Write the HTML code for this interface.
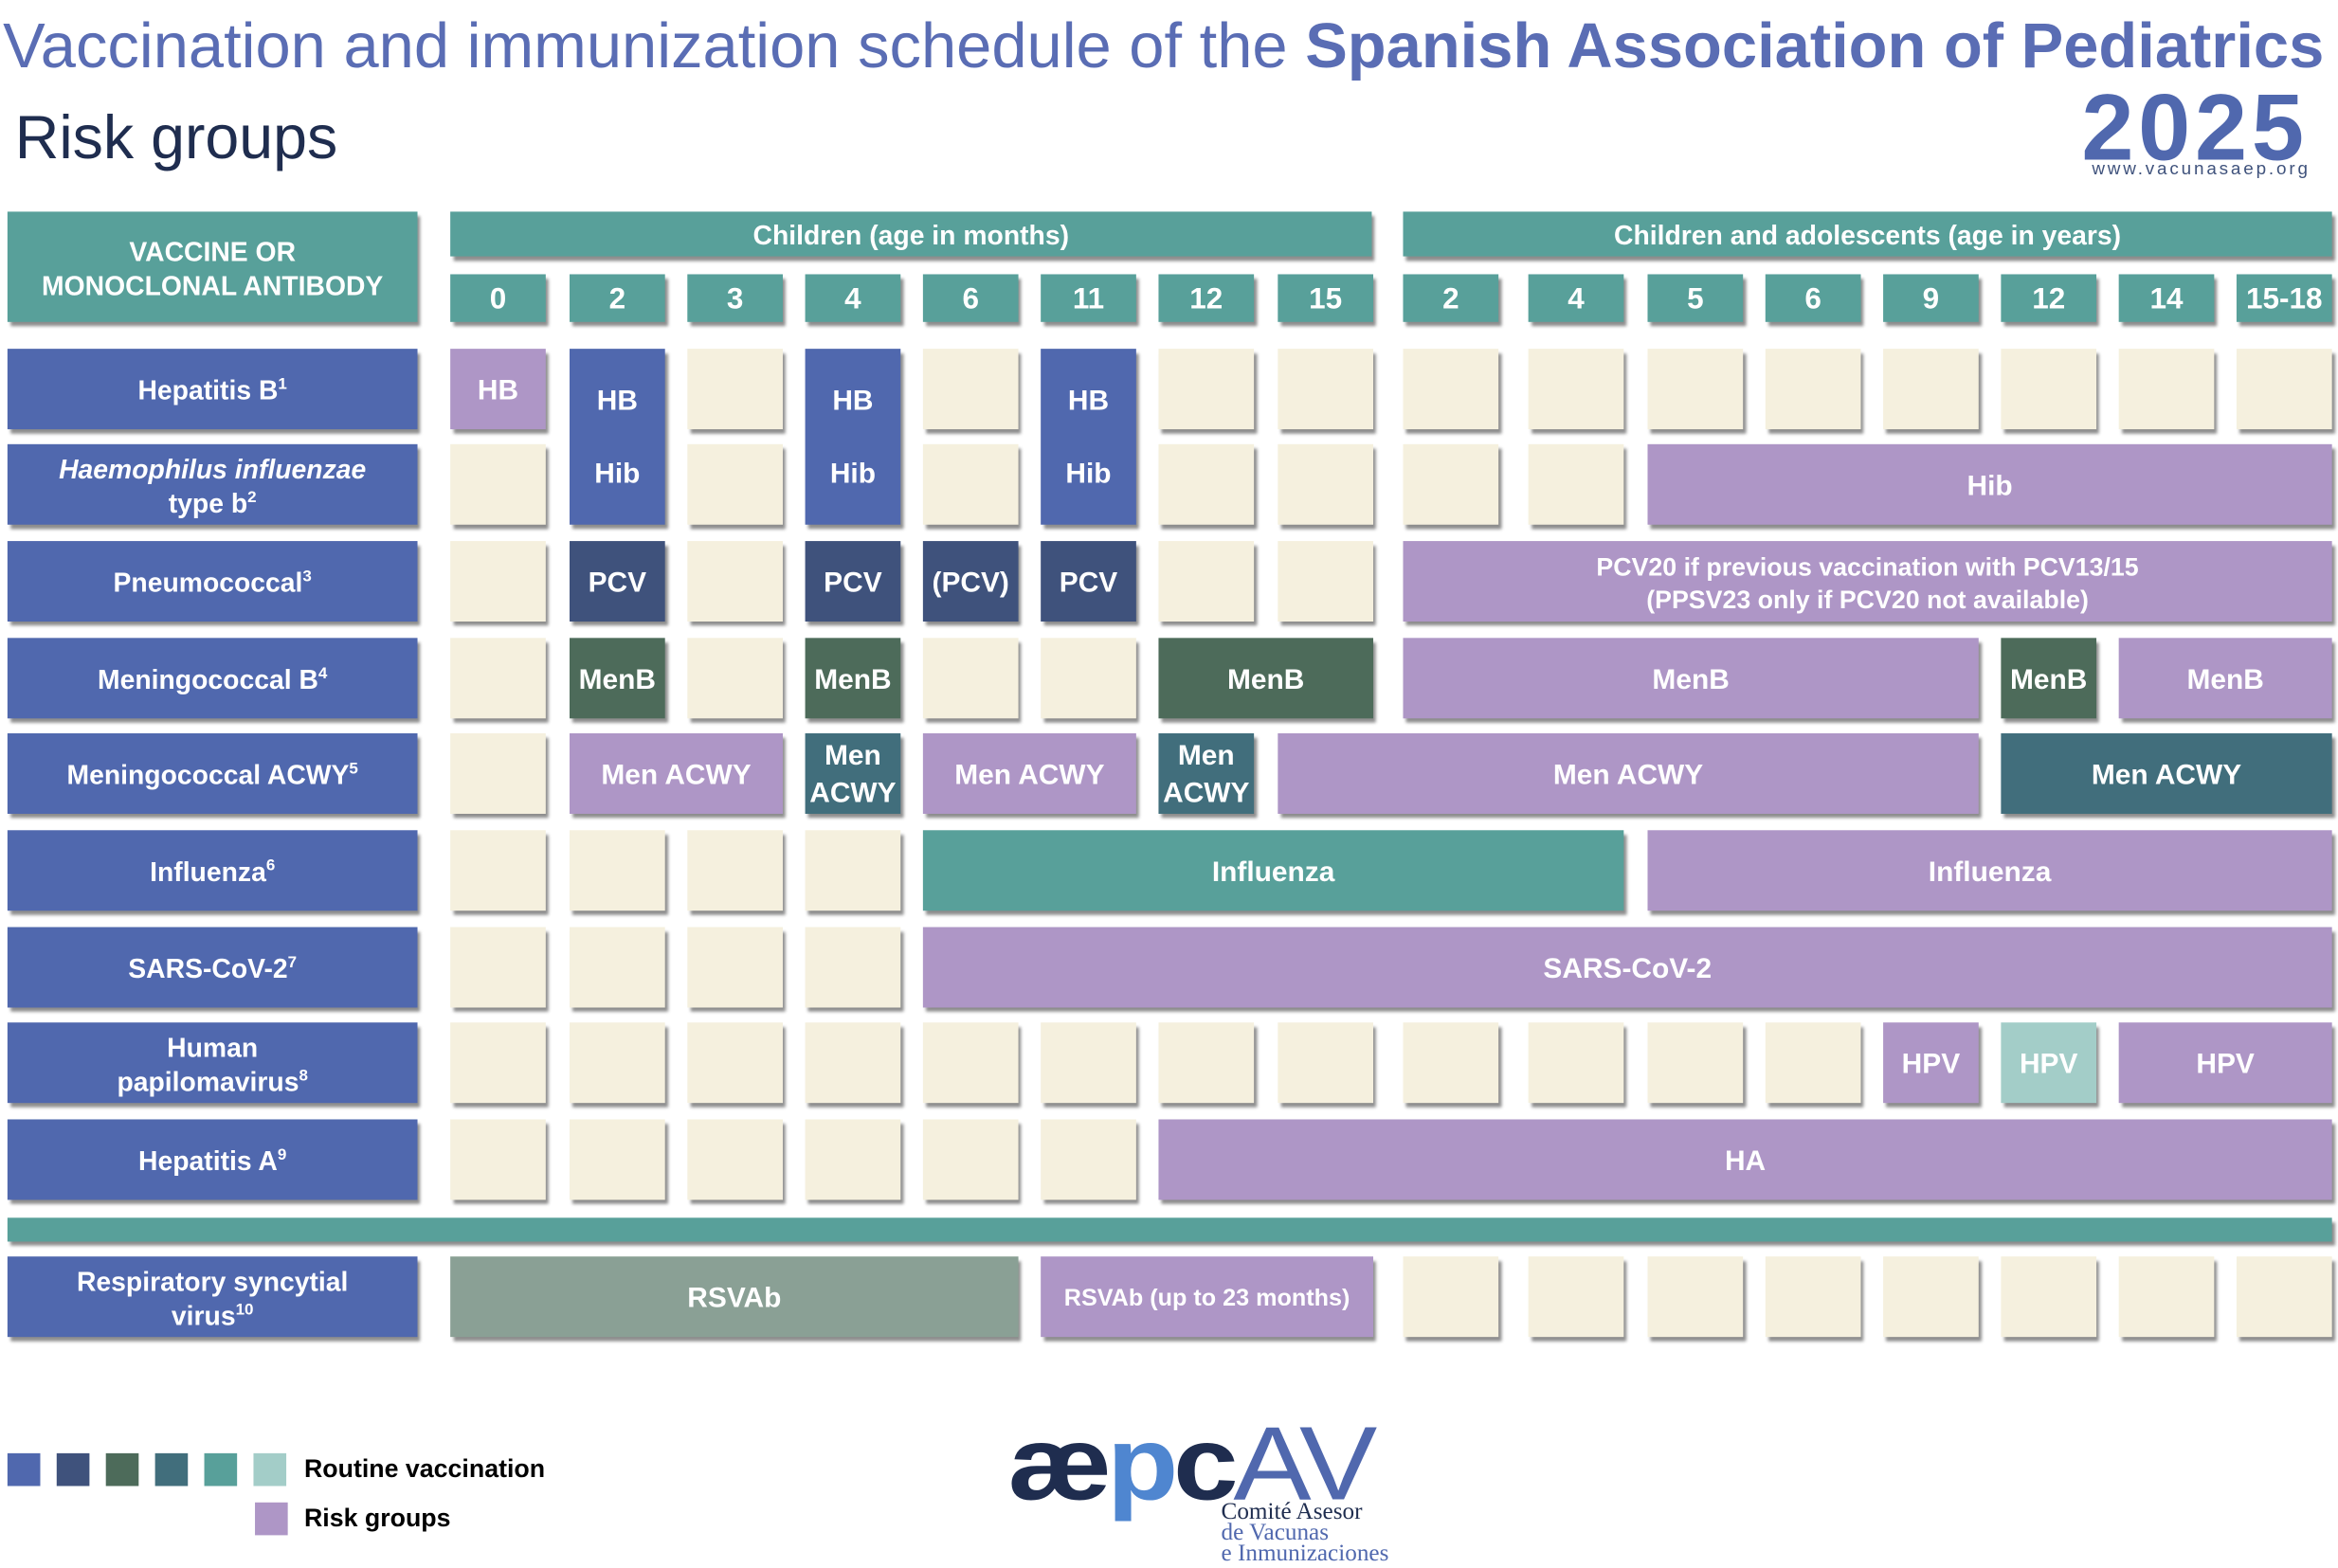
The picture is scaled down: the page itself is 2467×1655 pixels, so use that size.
<!DOCTYPE html>
<html><head><meta charset="utf-8">
<style>
html,body{margin:0;padding:0;background:#fff;}
body{width:2467px;height:1655px;overflow:hidden;position:relative;}
#stage{position:absolute;left:0;top:0;width:1568px;height:1052px;transform:scale(1.5733,1.5732);transform-origin:0 0;font-family:"Liberation Sans",sans-serif;}
.b{position:absolute;box-sizing:border-box;display:flex;align-items:center;justify-content:center;text-align:center;color:#fff;font-weight:bold;box-shadow:2px 3px 2px rgba(0,0,0,0.45);line-height:1.3;padding-top:4px;}
.b sup{font-size:60%;}
.t{position:absolute;white-space:nowrap;}
.cond{font-family:"Liberation Sans Narrow","Liberation Sans",sans-serif;}
</style></head><body>
<div id="stage">
  <div class="t" style="left:2px;top:8px;font-size:42.5px;color:#5a6db4;">Vaccination and immunization schedule of the <b>Spanish Association of Pediatrics</b></div>
  <div class="t" style="left:10px;top:69px;font-size:41px;color:#1f2d4f;">Risk groups</div>
  <div class="t" style="left:1396px;top:50px;font-size:63px;font-weight:bold;color:#5068ae;letter-spacing:3px;">2025</div>
  <div class="t" style="left:1403px;top:106px;font-size:12px;color:#3f527c;letter-spacing:1.8px;">www.vacunasaep.org</div>

  <div class="b" style="left:5px;top:142px;width:275px;height:74px;background:#58a09a;font-size:18px;"><span>VACCINE OR<br>MONOCLONAL ANTIBODY</span></div>
  <div class="b" style="left:302px;top:142px;width:618px;height:30px;background:#58a09a;font-size:18px;">Children (age in months)</div>
  <div class="b" style="left:941px;top:142px;width:623px;height:30px;background:#58a09a;font-size:18px;">Children and adolescents (age in years)</div>
  <div class="b" style="left:5px;top:817px;width:1559px;height:16px;background:#58a09a;"></div>

  <div id="grid"></div>

  <div id="legend"></div>
  <div class="t" style="left:204px;top:976px;font-size:17px;font-weight:bold;color:#000;">Routine vaccination</div>
  <div class="t" style="left:204px;top:1009px;font-size:17px;font-weight:bold;color:#000;">Risk groups</div>

  <div style="position:absolute;left:676px;top:942px;">
    <div class="t" style="left:0;top:0;font-size:70px;font-weight:bold;color:#1f2d4f;letter-spacing:-3px;font-family:'Liberation Sans',sans-serif;transform:scaleX(1.12);transform-origin:0 0;">æ<span style="color:#4f86d0">p</span>c<span style="color:#5068ae;font-family:'Liberation Sans',sans-serif;font-weight:normal;letter-spacing:-2px;">AV</span></div>
    <div class="t" style="left:143px;top:66px;font-size:16px;color:#1f2d4f;font-family:'Liberation Serif',serif;line-height:14px;">Comité Asesor<br><span style="color:#5068ae">de Vacunas<br>e Inmunizaciones</span></div>
  </div>
</div>
<script>
const colStarts=[302,382,461,540,619,698,777,857,941,1025,1105,1184,1263,1342,1421,1500];
const colWidth=64;
const ages=["0","2","3","4","6","11","12","15","2","4","5","6","9","12","14","15-18"];
const rowLabels=["Hepatitis B<sup>1</sup>","<i>Haemophilus influenzae</i><br>type b<sup>2</sup>","Pneumococcal<sup>3</sup>","Meningococcal B<sup>4</sup>","Meningococcal ACWY<sup>5</sup>","Influenza<sup>6</sup>","SARS-CoV-2<sup>7</sup>","Human<br>papilomavirus<sup>8</sup>","Hepatitis A<sup>9</sup>","Respiratory syncytial<br>virus<sup>10</sup>"];
const rowTops=[234,298,363,428,492,557,622,686,751,843];
const rowH=54;
const colors={R:"#5068ae",N:"#3f527c",G:"#4d6b5a",D:"#416e7c",T:"#58a09a",L:"#a3cdc8",P:"#ae96c6",S:"#8aa095"};
// spans: [row, colStart, colEnd, colorKey, text, rowSpan]
const spans=[
[0,0,0,"P","HB",1],[0,1,1,"R","HB<br><br>Hib",2],[0,3,3,"R","HB<br><br>Hib",2],[0,5,5,"R","HB<br><br>Hib",2],
[1,10,15,"P","Hib",1],
[2,1,1,"N","PCV",1],[2,3,3,"N","PCV",1],[2,4,4,"N","(PCV)",1],[2,5,5,"N","PCV",1],[2,8,15,"P","PCV20 if previous vaccination with PCV13/15<br>(PPSV23 only if PCV20 not available)",1],
[3,1,1,"G","MenB",1],[3,3,3,"G","MenB",1],[3,6,7,"G","MenB",1],[3,8,12,"P","MenB",1],[3,13,13,"G","MenB",1],[3,14,15,"P","MenB",1],
[4,1,2,"P","Men ACWY",1],[4,3,3,"D","Men<br>ACWY",1],[4,4,5,"P","Men ACWY",1],[4,6,6,"D","Men<br>ACWY",1],[4,7,12,"P","Men ACWY",1],[4,13,15,"D","Men ACWY",1],
[5,4,9,"T","Influenza",1],[5,10,15,"P","Influenza",1],
[6,4,15,"P","SARS-CoV-2",1],
[7,12,12,"P","HPV",1],[7,13,13,"L","HPV",1],[7,14,15,"P","HPV",1],
[8,6,15,"P","HA",1],
[9,0,4,"S","RSVAb",1],[9,5,7,"P","RSVAb (up to 23 months)",1]
];
const legendKeys=["R","N","G","D","T","L"];
const grid=document.getElementById('grid');
function box(l,t,w,h,bg,html,fs){
  const d=document.createElement('div');d.className='b';
  d.style.cssText=`left:${l}px;top:${t}px;width:${w}px;height:${h}px;background:${bg};font-size:${fs}px;`;
  d.innerHTML='<span>'+html+'</span>';grid.appendChild(d);return d;
}
ages.forEach((a,i)=>{
  const d=box(colStarts[i],184,colWidth,32,"#58a09a",a,20);
  d.classList.add('cond');
  d.style.paddingTop='2px';
  
  
});
rowLabels.forEach((lab,r)=>{
  const d=box(5,rowTops[r],275,rowH,"#5068ae",lab,18);
  
  
});
const covered=rowLabels.map(()=>colStarts.map(()=>false));
spans.forEach(s=>{
  const [r,c0,c1,k,txt,rs]=s;
  for(let rr=r;rr<r+rs;rr++)for(let c=c0;c<=c1;c++)covered[rr][c]=true;
  const l=colStarts[c0],w=colStarts[c1]+colWidth-l;
  const h=rowTops[r+rs-1]+rowH-rowTops[r];
  let fs=txt.length>40?17:19;
  if(txt.startsWith('RSVAb (')) fs=16;
  const d=box(l,rowTops[r],w,h,colors[k],txt,fs);
  d.style.whiteSpace='nowrap';
  if(!txt.startsWith('PCV20')&&!txt.startsWith('RSVAb')&&txt!=='Influenza')d.classList.add('cond');
  
  
});
covered.forEach((row,r)=>row.forEach((cv,c)=>{
  if(cv)return;
  const d=box(colStarts[c],rowTops[r],colWidth,rowH,"#f5f0de","",10);
  
  
}));
legendKeys.forEach((k,i)=>{
  const d=box(5+i*33,975,22,22,colors[k],"",10);
  d.style.boxShadow='none';
  
  
});
const rs=box(171,1008,22,22,colors.P,"",10);
rs.style.boxShadow='none';


</script>
</body></html>
